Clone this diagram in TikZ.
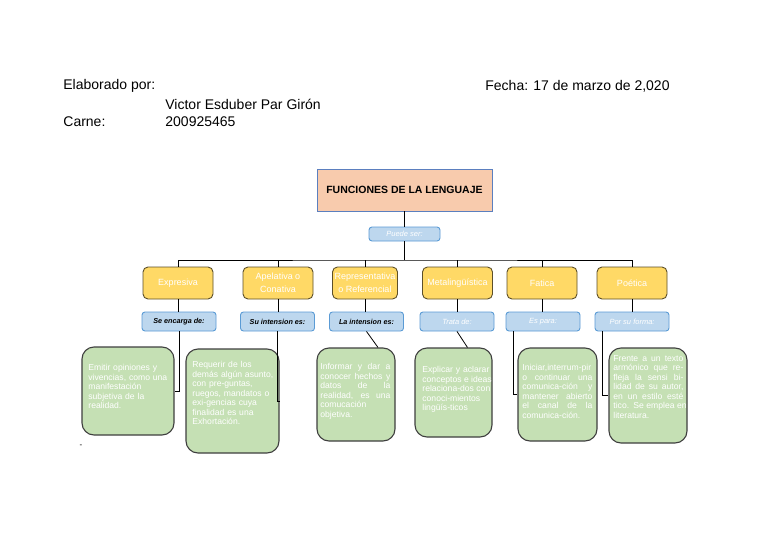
\documentclass[tikz,border=0pt]{standalone}
\usepackage{fontspec}
\setmainfont{Liberation Sans}
\usepackage{tikz}

\definecolor{titlefill}{HTML}{F8CBAD}
\definecolor{titledraw}{HTML}{5B7FBF}
\definecolor{yelfill}{HTML}{FFD966}
\definecolor{yeldraw}{HTML}{5C4F2A}
\definecolor{labfill}{HTML}{BDD7EE}
\definecolor{labdraw}{HTML}{5B9BD5}
\definecolor{grnfill}{HTML}{C5E0B4}
\definecolor{grndraw}{HTML}{3F3F3F}

% linea justificada
\newcommand{\jl}[2][70pt]{\makebox[#1][s]{\spaceskip=.28em plus 1fil\relax #2}}

\tikzset{
    head/.style={anchor=west, inner sep=0pt, font=\fontsize{14}{16}\selectfont},
    titlebox/.style={draw=titledraw, fill=titlefill, line width=0.9pt, minimum width=175pt,
        minimum height=42pt, inner sep=0pt, font=\bfseries\fontsize{10.5}{12}\selectfont},
    yel/.style={draw=yeldraw, fill=yelfill, line width=0.9pt, rounded corners=5pt, minimum width=70pt,
        minimum height=32pt, inner sep=0pt, text=white, align=center, font=\fontsize{9}{12.5}\selectfont},
    labeld/.style={draw=labdraw, fill=labfill, line width=0.9pt, rounded corners=3pt, minimum width=74pt,
        minimum height=19pt, inner sep=0pt, font=\bfseries\itshape\fontsize{7.2}{8}\selectfont},
    labelw/.style={labeld, text=white, font=\itshape\fontsize{7.5}{8}\selectfont},
    grn/.style={draw=grndraw, fill=grnfill, line width=1.1pt, rounded corners=12pt, inner sep=0pt},
    grntext/.style={anchor=north west, inner sep=0pt, text=white, align=left,
        font=\fontsize{8.6}{9.5}\selectfont},
}

\begin{document}
\begin{tikzpicture}[x=1pt, y=-1pt, line width=0.8pt]
    \useasboundingbox (0, 0) rectangle (768, 543);
    \fill[white] (0, 0) rectangle (768, 543);

    % encabezado
    \node[head] at (63, 86) (elab) {Elaborado por:};
    \node[head] at (165, 104) (autor) {Victor Esduber Par Girón};
    \node[head] at (63, 122) (carne) {Carne:};
    \node[head] at (165, 122) (numero) {200925465};
    \node[head] at (485, 86) (fecha) {Fecha: 17 de marzo de 2,020};

    \node[titlebox] at (404.5, 190) (titulo) {FUNCIONES DE LA LENGUAJE};
    \node[labelw, minimum width=71pt, minimum height=14pt] at (404.5, 234) (puede) {Puede ser:};
    \coordinate (bus) at (404.5, 260);

    \node[yel] at (178, 283) (expresiva) {Expresiva};
    \node[yel] at (278, 283) (apelativa) {Apelativa o\\Conativa};
    \node[yel, minimum width=65pt] at (365, 283) (represent) {Representativa\\o Referencial};
    \node[yel] at (457.5, 283) (metaling) {Metalingüística};
    \node[yel] at (542, 283) (fatica) {Fatica};
    \node[yel] at (632, 283) (poetica) {Poética};

    \node[labeld] at (179, 321.5) (encarga) {Se encarga de:};
    \node[labeld] at (277.5, 321.5) (suint) {Su intension es:};
    \node[labeld] at (366.5, 321.5) (laint) {La intension es:};
    \node[labelw] at (457, 321.5) (trata) {Trata de:};
    \node[labelw] at (543, 321.5) (espara) {Es para:};
    \node[labelw] at (632, 321.5) (porsu) {Por su forma:};

    \node[grn, minimum width=92pt, minimum height=88pt] at (128, 391) (emitir) {};
    \node[grn, minimum width=93pt, minimum height=104pt] at (232.5, 401) (requerir) {};
    \node[grn, minimum width=78pt, minimum height=93pt] at (356, 394.5) (informar) {};
    \node[grn, minimum width=77pt, minimum height=89pt] at (453.5, 392.5) (explicar) {};
    \node[grn, minimum width=79pt, minimum height=93pt] at (557.5, 394.5) (iniciar) {};
    \node[grn, minimum width=78pt, minimum height=95pt] at (648, 395.5) (frente) {};

    \node[grntext, text width=84pt] at (88, 364) (t1) {Emitir opiniones y\\vivencias, como una\\manifestación\\subjetiva de la\\realidad.};
    \node[grntext, text width=84pt] at (192, 361) (t2) {Requerir de los\\demás algún asunto,\\con pre-guntas,\\ruegos, mandatos o\\exi-gencias cuya\\finalidad es una\\Exhortación.};
    \node[grntext, text width=70pt] at (320, 363) (t3) {\jl{Informar y dar a}\\\jl{conocer hechos y}\\\jl{datos de la}\\\jl{realidad, es una}\\comucación\\objetiva.};
    \node[grntext, text width=67pt] at (422, 366) (t4) {\jl[67pt]{Explicar y aclarar}\\\jl[67pt]{conceptos e ideas}\\\jl[67pt]{relaciona-dos con}\\conoci-mientos\\lingüís-ticos};
    \node[grntext, text width=70pt] at (522, 364) (t5) {\jl{Iniciar,interrum-pir}\\\jl{o continuar una}\\\jl{comunica-ción y}\\\jl{mantener abierto}\\\jl{el canal de la}\\comunica-ción.};
    \node[grntext, text width=70pt] at (613, 355) (t6) {\jl{Frente a un texto}\\\jl{armónico que re-}\\\jl{fleja la sensi bi-}\\\jl{lidad de su autor,}\\\jl{en un estilo esté}\\\jl{tico. Se emplea en}\\literatura.};

    \node[inner sep=0pt, font=\fontsize{8}{8}\selectfont] at (81, 446) (guion) {-};

    % conectores
    \draw (titulo) -- (puede);
    \draw (puede) -- (bus);
    \draw (expresiva.north) |- (bus) -| (poetica.north);
    \foreach \n in {apelativa, represent, metaling, fatica}
        \draw (\n.north) -- (\n.north |- bus);
    \foreach \a/\b in {expresiva/encarga, apelativa/suint, represent/laint, metaling/trata, fatica/espara, poetica/porsu}
        \draw (\a.south) -- (\a.south |- \b.north);

    \draw (encarga.south) |- (emitir.east);
    \draw (suint.south) |- (requerir.east);
    \draw (laint.south) -- ([xshift=22pt]informar.north);
    \draw (trata.south) -- ([xshift=14pt]explicar.north);
    \draw ([xshift=-30pt]espara.south) |- (iniciar.west);
    \draw ([xshift=-30pt]porsu.south) |- (frente.west);
\end{tikzpicture}
\end{document}
